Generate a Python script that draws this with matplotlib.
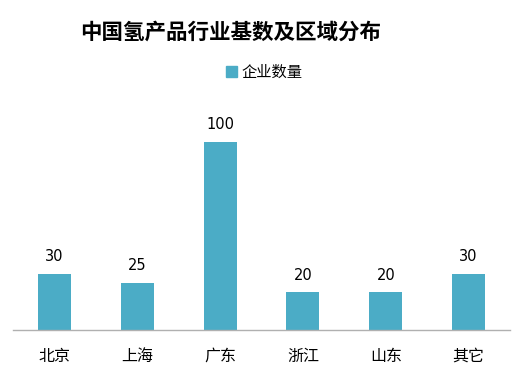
import matplotlib

matplotlib.use("Agg")
import matplotlib.pyplot as plt  # noqa: E402
from matplotlib.patches import Patch  # noqa: E402

plt.rcParams["font.family"] = ["Noto Sans CJK SC", "DejaVu Sans"]

REGIONS = ["北京", "上海", "广东", "浙江", "山东", "其它"]
COUNTS = [30, 25, 100, 20, 20, 30]
SERIES = "企业数量"
TITLE = "中国氢产品行业基数及区域分布"

TEAL = "#4bacc6"
W, H = 529, 373

fig = plt.figure(figsize=(W / 100, H / 100), dpi=100)
# axes box in pixels: left 13, right 510, bottom at y=330, top at y=104
ax = fig.add_axes([13 / W, (H - 330) / H, (510 - 13) / W, (330 - 104) / H])

bars = ax.bar(range(len(REGIONS)), COUNTS, width=0.4, color=TEAL)
ax.bar_label(bars, labels=[str(v) for v in COUNTS], padding=7,
             fontsize=10.5, family="DejaVu Sans", color="#000000")

ax.set_xlim(-0.5, len(REGIONS) - 0.5)
ax.set_ylim(0, 120)
ax.set_xticks(range(len(REGIONS)))
ax.set_xticklabels(REGIONS, fontsize=11.5)
ax.tick_params(axis="x", length=0, pad=13)
ax.set_yticks([])
for side in ("top", "right", "left"):
    ax.spines[side].set_visible(False)
ax.spines["bottom"].set_color("#b0b0b0")
ax.spines["bottom"].set_linewidth(1.0)

fig.text(231 / W, 1 - 32 / H, TITLE, ha="center", va="center",
         fontsize=15.5, fontweight="bold")
fig.legend(handles=[Patch(color=TEAL, label=SERIES)],
           loc="center", bbox_to_anchor=(264 / W, 1 - 72 / H),
           frameon=False, fontsize=11, handlelength=0.7, handleheight=0.7,
           handletextpad=0.3)

fig.savefig("out.png", dpi=100)
